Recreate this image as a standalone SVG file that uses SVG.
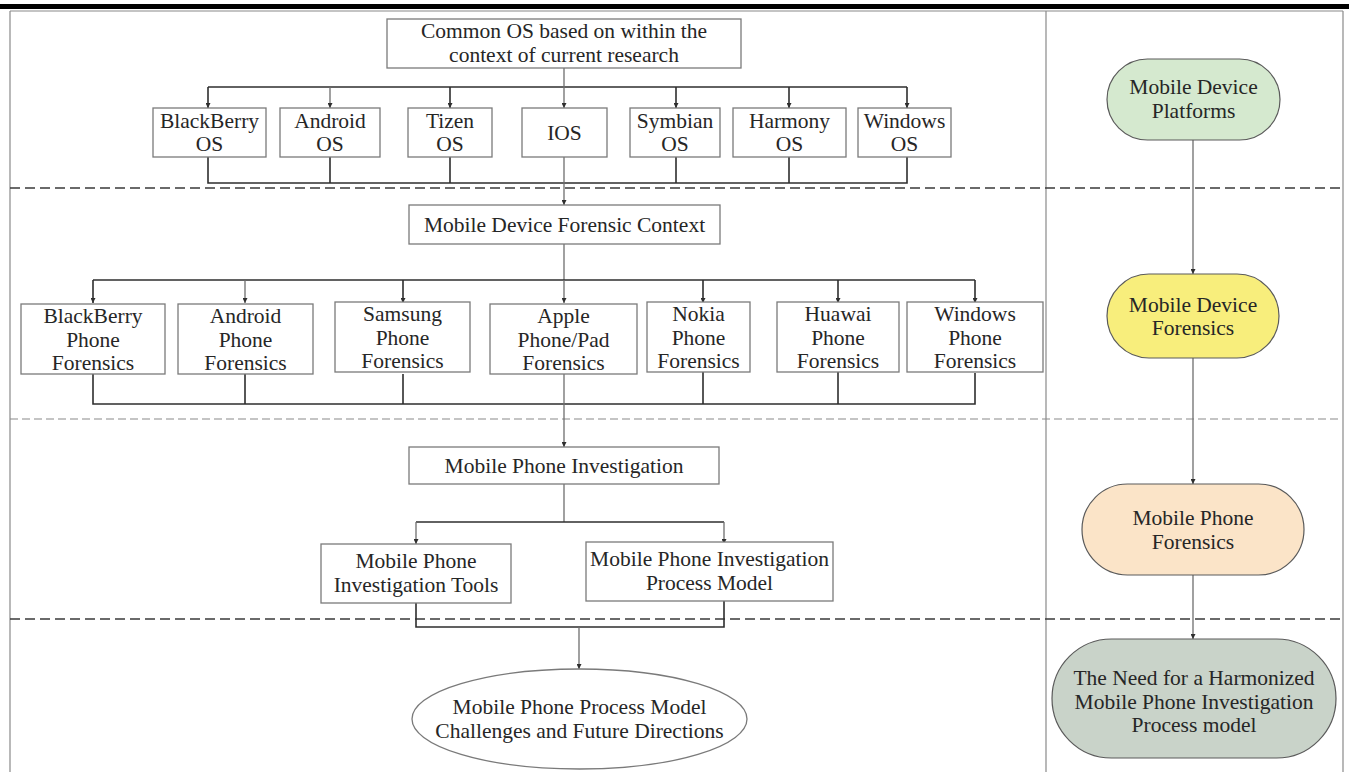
<svg xmlns="http://www.w3.org/2000/svg" width="1349" height="772" viewBox="0 0 1349 772">
<style>
  .box { fill: #ffffff; stroke: #7a7a7a; stroke-width: 1.3; }
  .t { font-family: "Liberation Serif", "DejaVu Serif", serif; font-size: 21.5px; fill: #262626; text-anchor: middle; }
  .c { fill: none; stroke: #2e2e2e; stroke-width: 1.6; }
  .cg { fill: none; stroke: #6e6e6e; stroke-width: 1.3; }
  .dashD { fill: none; stroke: #3a3a3a; stroke-width: 1.6; stroke-dasharray: 10 5; }
  .dashL { fill: none; stroke: #8a8a8a; stroke-width: 1.2; stroke-dasharray: 8 4; }
  .pill { stroke: #5a5a5a; stroke-width: 1.2; }
</style>
<defs>
  <marker id="arr" viewBox="0 0 6 6" refX="6" refY="3" markerWidth="5" markerHeight="5" markerUnits="userSpaceOnUse" orient="auto">
    <path d="M0,0 L6,3 L0,6 z" fill="#2e2e2e"/>
  </marker>
</defs>
<rect x="0" y="0" width="1349" height="772" fill="#ffffff"/>
<!-- header bar -->
<rect x="0" y="4" width="1349" height="5" fill="#000000"/>
<!-- frame -->
<g id="frame">
  <path d="M10,11 H1343 M10,11 V772 M1343,11 V772 M1046,11 V772" fill="none" stroke="#8a8a8a" stroke-width="1.2"/>
  <path class="dashD" d="M10,188 H1340"/>
  <path class="dashL" d="M10,419 H1340"/>
  <path class="dashD" d="M10,619 H1340"/>
</g>

<g id="connectors">
  <!-- top section -->
  <path class="c" d="M208,87 H907"/>
  <path class="cg" d="M564,68 V108" marker-end="url(#arr)"/>
  <path class="c" d="M208,87 V108" marker-end="url(#arr)"/>
  <path class="cg" d="M330,87 V108" marker-end="url(#arr)"/>
  <path class="c" d="M450,87 V108" marker-end="url(#arr)"/>
  <path class="c" d="M676,87 V108" marker-end="url(#arr)"/>
  <path class="c" d="M789,87 V108" marker-end="url(#arr)"/>
  <path class="c" d="M907,87 V108" marker-end="url(#arr)"/>
  <path class="c" d="M208,157 V183 H907 V157 M330,157 V183 M450,157 V183 M676,157 V183 M789,157 V183"/>
  <path class="cg" d="M564,157 V205" marker-end="url(#arr)"/>
  <!-- middle section -->
  <path class="cg" d="M564,244 V280"/>
  <path class="c" d="M93,280 H975"/>
  <path class="c" d="M93,280 V303" marker-end="url(#arr)"/>
  <path class="cg" d="M245,280 V303" marker-end="url(#arr)"/>
  <path class="c" d="M403,280 V303" marker-end="url(#arr)"/>
  <path class="cg" d="M564,280 V303" marker-end="url(#arr)"/>
  <path class="c" d="M703,280 V303" marker-end="url(#arr)"/>
  <path class="c" d="M838,280 V303" marker-end="url(#arr)"/>
  <path class="c" d="M975,280 V303" marker-end="url(#arr)"/>
  <path class="c" d="M93,374 V404 H975 V373 M245,374 V404 M403,374 V404 M703,372 V404 M838,372 V404"/>
  <path class="cg" d="M564,374 V447" marker-end="url(#arr)"/>
  <!-- third section -->
  <path class="cg" d="M564,484 V522"/>
  <path class="c" d="M416,522 H724"/>
  <path class="cg" d="M416,522 V544" marker-end="url(#arr)"/>
  <path class="cg" d="M724,522 V544" marker-end="url(#arr)"/>
  <path class="c" d="M416,603 V627 H724 V601"/>
  <path class="cg" d="M579,627 V669" marker-end="url(#arr)"/>
  <!-- right column -->
  <path class="cg" d="M1193,140 V274" marker-end="url(#arr)"/>
  <path class="cg" d="M1193,358 V484" marker-end="url(#arr)"/>
  <path class="cg" d="M1193,575 V639" marker-end="url(#arr)"/>
</g>

<g id="common-os">
  <rect class="box" x="387" y="19" width="354" height="49"/>
  <text class="t" x="564" y="38">Common OS based on within the</text>
  <text class="t" x="564" y="62">context of current research</text>
</g>
<g id="blackberry-os">
  <rect class="box" x="153" y="108" width="113" height="49"/>
  <text class="t" x="209.5" y="128">BlackBerry</text>
  <text class="t" x="209.5" y="151">OS</text>
</g>
<g id="android-os">
  <rect class="box" x="280" y="108" width="100" height="49"/>
  <text class="t" x="330" y="128">Android</text>
  <text class="t" x="330" y="151">OS</text>
</g>
<g id="tizen-os">
  <rect class="box" x="408" y="108" width="84" height="49"/>
  <text class="t" x="450" y="128">Tizen</text>
  <text class="t" x="450" y="151">OS</text>
</g>
<g id="ios">
  <rect class="box" x="522" y="108" width="85" height="49"/>
  <text class="t" x="564.5" y="140">IOS</text>
</g>
<g id="symbian-os">
  <rect class="box" x="630" y="108" width="90" height="49"/>
  <text class="t" x="675" y="128">Symbian</text>
  <text class="t" x="675" y="151">OS</text>
</g>
<g id="harmony-os">
  <rect class="box" x="733" y="108" width="113" height="49"/>
  <text class="t" x="789.5" y="128">Harmony</text>
  <text class="t" x="789.5" y="151">OS</text>
</g>
<g id="windows-os">
  <rect class="box" x="858" y="108" width="93" height="49"/>
  <text class="t" x="904.5" y="128">Windows</text>
  <text class="t" x="904.5" y="151">OS</text>
</g>

<g id="forensic-context">
  <rect class="box" x="409" y="205" width="311" height="39"/>
  <text class="t" x="564.5" y="232">Mobile Device Forensic Context</text>
</g>
<g id="blackberry-phone">
  <rect class="box" x="21" y="304" width="144" height="70"/>
  <text class="t" x="93" y="323">BlackBerry</text>
  <text class="t" x="93" y="347">Phone</text>
  <text class="t" x="93" y="370">Forensics</text>
</g>
<g id="android-phone">
  <rect class="box" x="178" y="304" width="135" height="70"/>
  <text class="t" x="245.5" y="323">Android</text>
  <text class="t" x="245.5" y="347">Phone</text>
  <text class="t" x="245.5" y="370">Forensics</text>
</g>
<g id="samsung-phone">
  <rect class="box" x="335" y="302" width="135" height="70"/>
  <text class="t" x="402.5" y="321">Samsung</text>
  <text class="t" x="402.5" y="345">Phone</text>
  <text class="t" x="402.5" y="368">Forensics</text>
</g>
<g id="apple-phone">
  <rect class="box" x="490" y="304" width="147" height="70"/>
  <text class="t" x="563.5" y="323">Apple</text>
  <text class="t" x="563.5" y="347">Phone/Pad</text>
  <text class="t" x="563.5" y="370">Forensics</text>
</g>
<g id="nokia-phone">
  <rect class="box" x="647" y="302" width="103" height="70"/>
  <text class="t" x="698.5" y="321">Nokia</text>
  <text class="t" x="698.5" y="345">Phone</text>
  <text class="t" x="698.5" y="368">Forensics</text>
</g>
<g id="huawai-phone">
  <rect class="box" x="777" y="302" width="122" height="70"/>
  <text class="t" x="838" y="321">Huawai</text>
  <text class="t" x="838" y="345">Phone</text>
  <text class="t" x="838" y="368">Forensics</text>
</g>
<g id="windows-phone">
  <rect class="box" x="907" y="302" width="136" height="70"/>
  <text class="t" x="975" y="321">Windows</text>
  <text class="t" x="975" y="345">Phone</text>
  <text class="t" x="975" y="368">Forensics</text>
</g>

<g id="phone-investigation">
  <rect class="box" x="409" y="447" width="310" height="37"/>
  <text class="t" x="564" y="473">Mobile Phone Investigation</text>
</g>
<g id="investigation-tools">
  <rect class="box" x="321" y="544" width="190" height="59"/>
  <text class="t" x="416" y="568">Mobile Phone</text>
  <text class="t" x="416" y="592">Investigation Tools</text>
</g>
<g id="investigation-process-model">
  <rect class="box" x="586" y="542" width="247" height="59"/>
  <text class="t" x="709.5" y="566">Mobile Phone Investigation</text>
  <text class="t" x="709.5" y="590">Process Model</text>
</g>
<g id="challenges">
  <ellipse class="box" cx="579.5" cy="719" rx="167.5" ry="50"/>
  <text class="t" x="579.5" y="714">Mobile Phone Process Model</text>
  <text class="t" x="579.5" y="738">Challenges and Future Directions</text>
</g>

<g id="pill-platforms">
  <rect class="pill" x="1107" y="59" width="173" height="81" rx="40.5" fill="#d5e9cf"/>
  <text class="t" x="1193.5" y="94">Mobile Device</text>
  <text class="t" x="1193.5" y="118">Platforms</text>
</g>
<g id="pill-device-forensics">
  <rect class="pill" x="1107" y="274" width="172" height="84" rx="42" fill="#f8ee7c"/>
  <text class="t" x="1193" y="312">Mobile Device</text>
  <text class="t" x="1193" y="335">Forensics</text>
</g>
<g id="pill-phone-forensics">
  <rect class="pill" x="1082" y="484" width="222" height="91" rx="45.5" fill="#fbe4c8"/>
  <text class="t" x="1193" y="525">Mobile Phone</text>
  <text class="t" x="1193" y="549">Forensics</text>
</g>
<g id="pill-harmonized">
  <rect class="pill" x="1052" y="639" width="284" height="119" rx="59.5" fill="#c9d3c9"/>
  <text class="t" x="1194" y="685">The Need for a Harmonized</text>
  <text class="t" x="1194" y="709">Mobile Phone Investigation</text>
  <text class="t" x="1194" y="732">Process model</text>
</g>
</svg>
